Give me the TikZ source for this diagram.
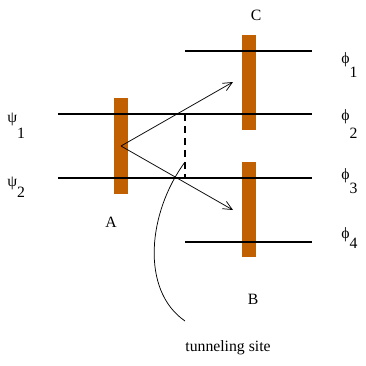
\documentclass[tikz,border=0pt]{standalone}
\usepackage{fontspec}
\setmainfont{Liberation Serif}
\usepackage{tikz}
\usetikzlibrary{arrows.meta,positioning,calc}
\definecolor{barcol}{RGB}{192,96,0}
\tikzset{
  bar/.style={fill=barcol, draw=none, inner sep=0pt, minimum width=10.5pt},
  level/.style={line width=0.9pt},
  arrow/.style={-{Straight Barb[length=2.4mm,width=2.2mm]}, line width=0.55pt},
  tunnel/.style={line width=0.9pt, dash pattern=on 5.5pt off 3.5pt},
  lbl/.style={inner sep=0pt, font=\fontsize{11.8}{14}\selectfont},
  sub/.style={lbl, anchor=west}
}
\begin{document}
\begin{tikzpicture}[x=0.75pt, y=-0.75pt]
  \useasboundingbox (0,0) rectangle (366,365);
  % wells
  \node[bar, minimum height=72pt] (barA) at (121,146) {};
  \node[bar, minimum height=71.25pt] (barC) at (248.5,82.5) {};
  \node[bar, minimum height=71.25pt] (barB) at (248.5,209.5) {};
  % levels
  \coordinate (l1) at (58,114);  \coordinate (r1) at (312,114);
  \coordinate (l2) at (58,178);  \coordinate (r2) at (312,178);
  \coordinate (l0) at (185,51);  \coordinate (r0) at (312,51);
  \coordinate (l4) at (185,242); \coordinate (r4) at (312,242);
  \draw[level] (l1) -- (r1);
  \draw[level] (l2) -- (r2);
  \draw[level] (l0) -- (r0);
  \draw[level] (l4) -- (r4);
  % transitions
  \coordinate (src) at (121,146);
  \coordinate (upC) at (233,82);
  \coordinate (dnB) at (233,210);
  \draw[arrow] (src) -- (upC);
  \draw[arrow] (src) -- (dnB);
  \coordinate (t1) at (185,114);
  \coordinate (t2) at (185,178);
  \draw[tunnel] (t1) -- (t2);
  % labels
  \node[lbl] (lblC) at (256,15) {C};
  \node[lbl] (lblA) at (111,222) {A};
  \node[lbl] (lblB) at (253,299) {B};
  \node[lbl] (site) at (228,348) {tunneling site};
  \coordinate (tip) at (185,162);
  \coordinate (tail) at (185,321);
  \draw[line width=0.55pt] (tip) .. controls (148,212) and (140,290) .. (tail);
  \node[sub] (psi1) at (7,126) {ψ\raisebox{-12pt}{1}};
  \node[sub] (psi2) at (7,187) {ψ\raisebox{-8pt}{2}};
  \node[sub] (phi1) at (341,65) {ϕ\raisebox{-11pt}{1}};
  \node[sub] (phi2) at (341,124) {ϕ\raisebox{-13pt}{2}};
  \node[sub] (phi3) at (341,181) {ϕ\raisebox{-11pt}{3}};
  \node[sub] (phi4) at (341,238) {ϕ\raisebox{-8pt}{4}};
\end{tikzpicture}
\end{document}
